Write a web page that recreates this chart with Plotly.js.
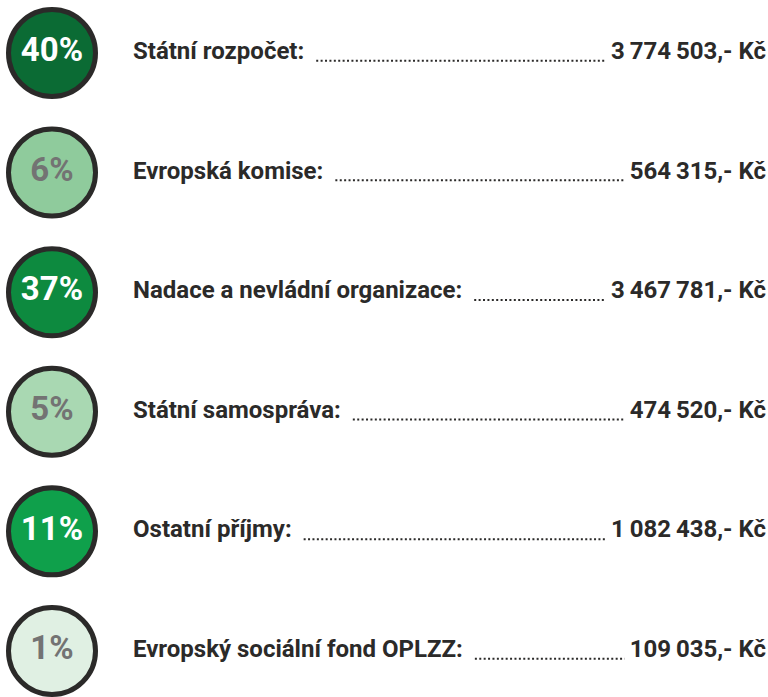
<!DOCTYPE html>
<html>
<head>
<meta charset="utf-8">
<script src="https://cdn.plot.ly/plotly-3.0.1.min.js"></script>
<style>html,body{margin:0;padding:0;background:#fff;}#chart{width:768px;height:697px;}</style>
</head>
<body>
<div id="chart"></div>
<script>
const categories = ["Státní rozpočet:", "Evropská komise:", "Nadace a nevládní organizace:", "Státní samospráva:", "Ostatní příjmy:", "Evropský sociální fond OPLZZ:"];
const percents = [40, 6, 37, 5, 11, 1];
const amounts = [3774503, 564315, 3467781, 474520, 1082438, 109035];
const fillColors = ["#0b6b34", "#8fcb9c", "#0d8a3f", "#a9d8b2", "#0fa04b", "#e0f0e3"];
const percentTextColors = ["#ffffff", "#737373", "#ffffff", "#737373", "#ffffff", "#737373"];

const FONT = "Roboto, 'DejaVu Sans', sans-serif";
const LABEL_SIZE = 24;
const PCT_SIZE = 33;
const LABEL_X = 133, VALUE_X = 766, CIRCLE_X = 52;

function fmt(n) {
  return String(n).replace(/\B(?=(\d{3})+(?!\d))/g, "\u2009") + ",- Kč";
}
const rows = categories.map((_, i) => i);
const valueTexts = amounts.map(fmt);

const canvas = document.createElement("canvas");
const ctx = canvas.getContext("2d");
ctx.font = "bold " + LABEL_SIZE + "px Roboto";
function w(t) { return ctx.measureText(t).width; }

const traces = [
  {
    type: "scatter", mode: "markers+text",
    x: rows.map(() => CIRCLE_X), y: rows,
    text: percents.map(p => p + "%"),
    textposition: "middle center",
    textfont: {family: FONT, size: PCT_SIZE, color: percentTextColors, weight: 700},
    marker: {size: 87, color: fillColors, line: {color: "#2b2a29", width: 5}},
    hoverinfo: "skip", cliponaxis: false
  },
  {
    type: "scatter", mode: "text",
    x: rows.map(() => LABEL_X), y: rows,
    text: categories, textposition: "middle right",
    textfont: {family: FONT, size: LABEL_SIZE, color: "#2b2a29", weight: 700},
    hoverinfo: "skip", cliponaxis: false
  },
  {
    type: "scatter", mode: "text",
    x: rows.map(() => VALUE_X), y: rows,
    text: valueTexts, textposition: "middle left",
    textfont: {family: FONT, size: LABEL_SIZE, color: "#2b2a29", weight: 700},
    hoverinfo: "skip", cliponaxis: false
  }
];

const shapes = rows.map(i => ({
  type: "line", xref: "x", yref: "y",
  x0: LABEL_X + w(categories[i]) + 12,
  x1: VALUE_X - w(valueTexts[i]) - 5,
  y0: i + 0.065, y1: i + 0.065,
  line: {color: "#2b2a29", width: 2, dash: "2px,2.4px"}
}));

const layout = {
  width: 768, height: 697,
  margin: {l: 0, r: 0, t: 0, b: 0},
  paper_bgcolor: "#ffffff", plot_bgcolor: "#ffffff",
  showlegend: false,
  xaxis: {range: [0, 768], visible: false, fixedrange: true},
  yaxis: {range: [5.385, -0.443], visible: false, fixedrange: true},
  shapes: shapes
};

Plotly.newPlot("chart", traces, layout, {displayModeBar: false, staticPlot: true});
</script>
</body>
</html>
